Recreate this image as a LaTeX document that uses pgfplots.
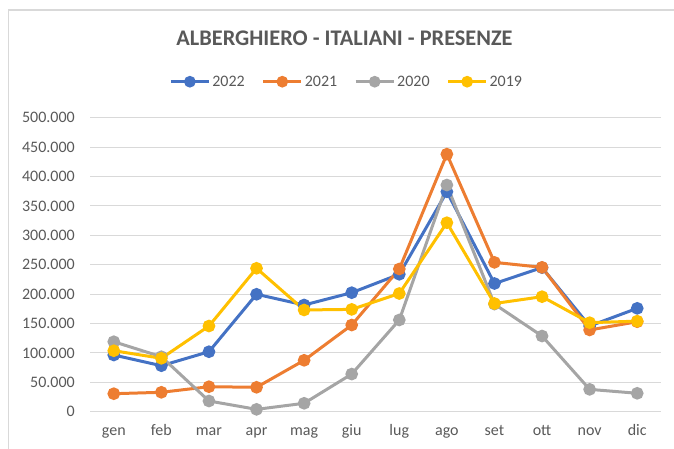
\documentclass[border=0pt]{standalone}
\usepackage{fontspec}
\setmainfont{Carlito}
\usepackage{pgfplots}
\pgfplotsset{compat=1.18}
\definecolor{c22}{HTML}{4472C4}
\definecolor{c21}{HTML}{ED7D31}
\definecolor{c20}{HTML}{A5A5A5}
\definecolor{c19}{HTML}{FFC000}
\definecolor{gridc}{HTML}{D9D9D9}
\definecolor{txt}{HTML}{595959}
\begin{document}
\begin{tikzpicture}
\useasboundingbox (0,0) rectangle (674bp,449bp);
\draw[gridc, line width=1.5bp] (8.5bp,0) -- (8.5bp,439bp) -- (674bp,439bp);
\node[anchor=base, text=txt, inner sep=0pt, font=\fontsize{22.3bp}{26bp}\selectfont\bfseries] at (344.5bp,403bp) {ALBERGHIERO - ITALIANI - PRESENZE};
\begin{axis}[
  at={(90bp,37.3bp)}, anchor=south west,
  scale only axis, width=571bp, height=294bp,
  xmin=-0.5, xmax=11.5, ymin=0, ymax=500000,
  xtick={0,...,11},
  xticklabels={gen,feb,mar,apr,mag,giu,lug,ago,set,ott,nov,dic},
  ytick={0,50000,...,500000},
  ymajorgrids, grid style={gridc, line width=1bp},
  axis line style={draw=none},
  major tick length=0pt,
  tick style={draw=none},
  scaled y ticks=false,
  /pgf/number format/.cd, fixed, 1000 sep={.}, assume math mode=true,
  /pgfplots/.cd,
  ticklabel style={text=txt, font=\fontsize{16bp}{19bp}\selectfont, inner sep=0pt},
  yticklabel style={anchor=east, xshift=-15bp},
  xticklabel style={anchor=base, yshift=-24bp},
  clip=false,
  every axis plot/.append style={line width=3bp, mark=*, mark size=4.8bp, mark options={solid}},
  legend columns=4,
  legend style={draw=none, fill=none, at={(0.4496,1.1224)}, anchor=center,
    font=\fontsize{16bp}{19bp}\selectfont, text=txt,
    /tikz/every even column/.append style={column sep=15bp}},
  legend image code/.code={\draw[mark repeat=2, mark phase=2, mark size=4.3bp] plot coordinates {(0bp,0bp) (19bp,0bp) (38bp,0bp)};},
]
\addplot[c22, mark options={fill=c22, draw=c22}] coordinates {
(0,96400) (1,78200) (2,102000) (3,199700) (4,181500) (5,202400) (6,233700) (7,374000) (8,218000) (9,245000) (10,145700) (11,175800)};
\addlegendentry{2022}
\addplot[c21, mark options={fill=c21, draw=c21}] coordinates {
(0,30600) (1,33000) (2,42500) (3,41500) (4,87400) (5,147400) (6,242700) (7,438000) (8,254000) (9,245500) (10,139000) (11,153000)};
\addlegendentry{2021}
\addplot[c20, mark options={fill=c20, draw=c20}] coordinates {
(0,119000) (1,93500) (2,18200) (3,4000) (4,14300) (5,64000) (6,156000) (7,385500) (8,183000) (9,128700) (10,38000) (11,31300)};
\addlegendentry{2020}
\addplot[c19, mark options={fill=c19, draw=c19}] coordinates {
(0,103700) (1,90800) (2,145700) (3,243900) (4,173000) (5,174000) (6,201000) (7,321400) (8,184000) (9,195600) (10,151400) (11,154000)};
\addlegendentry{2019}
\end{axis}
\end{tikzpicture}
\end{document}
